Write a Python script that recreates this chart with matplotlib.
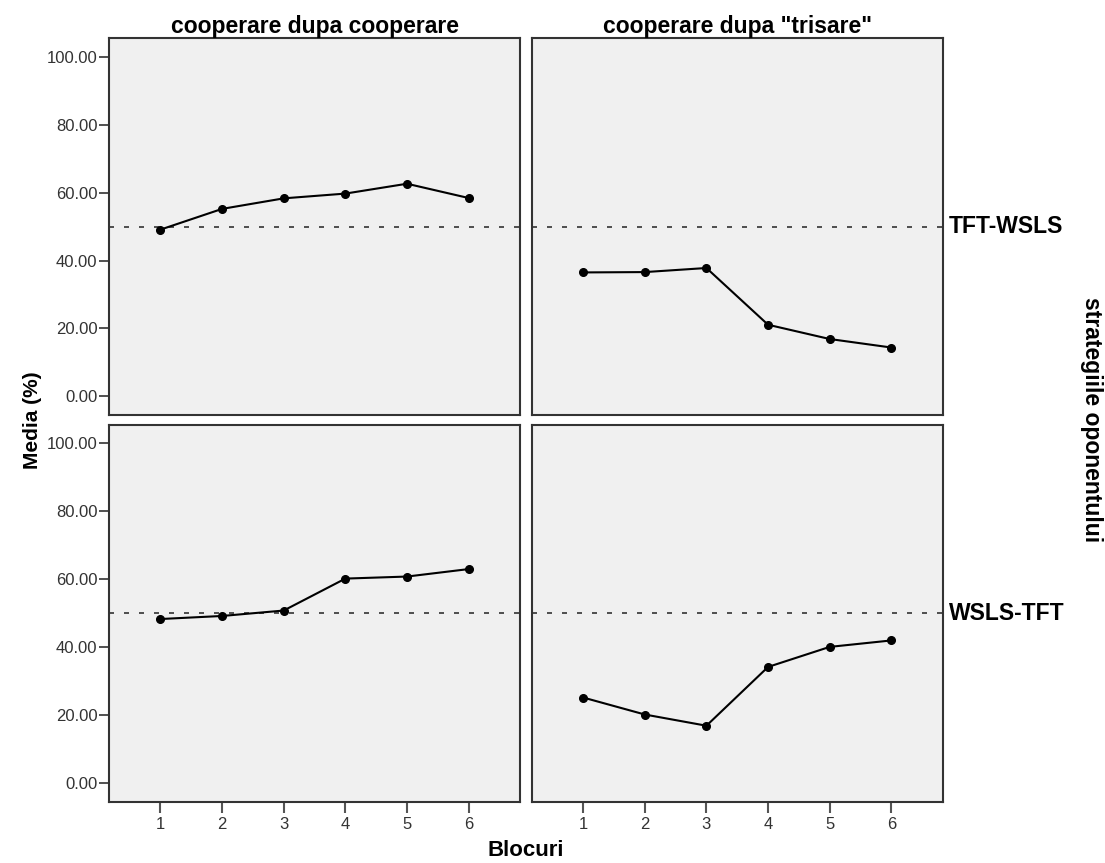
import matplotlib.pyplot as plt

# ======= DATOS ==========
blocuri = [1, 2, 3, 4, 5, 6]

# cooperare dupa cooperare / cooperare dupa "trisare", pe strategie
tft_wsls_coop = [49.1, 55.2, 58.3, 59.7, 62.6, 58.4]
tft_wsls_tris = [36.5, 36.6, 37.8, 21.1, 16.9, 14.4]
wsls_tft_coop = [48.3, 49.2, 50.8, 60.2, 60.8, 63.0]
wsls_tft_tris = [25.2, 20.2, 16.9, 34.2, 40.1, 42.0]

titluri_coloane = ["cooperare dupa cooperare", 'cooperare dupa "trisare"']
etichete_randuri = ["TFT-WSLS", "WSLS-TFT"]
yticks = [0, 20, 40, 60, 80, 100]
linie_ref = 50
# ========================

plt.rcParams['font.family'] = ['Liberation Sans', 'DejaVu Sans']

W, H = 1105, 863
fig = plt.figure(figsize=(W / 100, H / 100), dpi=100)

# pozitii panouri (pixeli: stanga, sus, latime, inaltime)
col_x = [109.3, 532.0]
row_y = [38.3, 425.0]
pw, ph = 410.5, 376.5

valori = [[tft_wsls_coop, tft_wsls_tris], [wsls_tft_coop, wsls_tft_tris]]

for r in range(2):
    for c in range(2):
        ax = fig.add_axes([col_x[c] / W, 1 - (row_y[r] + ph) / H, pw / W, ph / H])
        ax.set_facecolor('#f0f0f0')
        ax.axhline(linie_ref, color='#333333', linewidth=1.2, dashes=(3.0, 6.0))
        ax.plot(blocuri, valori[r][c], color='black', linewidth=1.5,
                marker='o', markersize=5.5, zorder=3)
        ax.set_xlim(0.17, 6.83)
        ax.set_ylim(-5.4, 105.4)
        for s in ax.spines.values():
            s.set_color('#333333')
            s.set_linewidth(1.5)

        ax.set_yticks(yticks)
        ax.set_yticklabels([f"{v:.2f}" for v in yticks])
        ax.set_xticks(blocuri)
        ax.tick_params(axis='y', length=7, width=1.2, color='#333333',
                       labelsize=12, labelcolor='#333333', pad=1.5)
        ax.tick_params(axis='x', length=8, width=1.5, color='#555555',
                       labelsize=12, labelcolor='#333333', pad=3)
        if c == 1:
            ax.tick_params(axis='y', left=False, labelleft=False)
        if r == 0:
            ax.tick_params(axis='x', bottom=False, labelbottom=False)
            ax.set_title(titluri_coloane[c], fontsize=16.5, fontweight='bold', pad=3)
        if c == 1:
            ax.text(1.015, 0.5, etichete_randuri[r], transform=ax.transAxes,
                    fontsize=16.5, fontweight='bold', va='center', ha='left')

fig.text(32 / W, 1 - 420 / H, "Media (%)", rotation=90, fontsize=15,
         fontweight='bold', ha='center', va='center')
fig.text(526 / W, 1 - 850 / H, "Blocuri", fontsize=16, fontweight='bold',
         ha='center', va='center')
fig.text(1092 / W, 1 - 420 / H, "strategiile oponentului", rotation=270,
         fontsize=16.5, fontweight='bold', ha='center', va='center')

fig.savefig("out.png", dpi=100)
plt.close()
